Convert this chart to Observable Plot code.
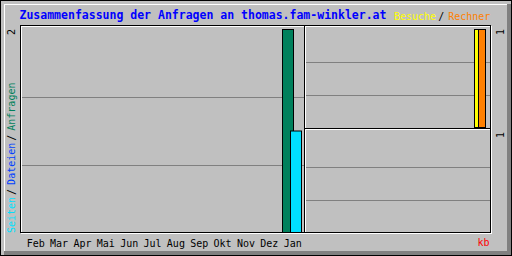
<!DOCTYPE html>
<html><head><meta charset="utf-8">
<script src="https://cdn.jsdelivr.net/npm/d3@7"></script>
<script src="https://cdn.jsdelivr.net/npm/@observablehq/plot@0.6"></script>
<style>
html,body{margin:0;padding:0;background:#c0c0c0;}
#chart{position:relative;width:512px;height:256px;background:#c0c0c0;overflow:hidden;font-family:"DejaVu Sans Mono",monospace;}
#chart svg{position:absolute;left:0;top:0;}
.abs{position:absolute;box-sizing:border-box;}
.txt{position:absolute;white-space:pre;font-size:10px;line-height:10px;font-family:"DejaVu Sans Mono",monospace;}
.rot{transform-origin:0 0;transform:rotate(-90deg);}
.sep{display:inline-block;width:12px;padding-left:2px;box-sizing:border-box;color:#000;}
</style></head><body><div id="chart"></div>
<script>
// ---- data ----
const months = ["Feb","Mar","Apr","Mai","Jun","Jul","Aug","Sep","Okt","Nov","Dez","Jan"];
const hits   = [0,0,0,0,0,0,0,0,0,0,0,2];   // Anfragen
const files  = [0,0,0,0,0,0,0,0,0,0,0,0];   // Dateien
const pages  = [0,0,0,0,0,0,0,0,0,0,0,1];   // Seiten
const visits = [0,0,0,0,0,0,0,0,0,0,0,1];   // Besuche
const sites  = [0,0,0,0,0,0,0,0,0,0,0,1];   // Rechner
const kbytes = [0,0,0,0,0,0,0,0,0,0,0,0];   // kb
const maxLabels = ["2","1","1"];             // left, top-right, bottom-right
const titleText = "Zusammenfassung der Anfragen an thomas.fam-winkler.at";
const leftLegend = ["Seiten","Dateien","Anfragen"];
const rightLegend = ["Besuche","Rechner"];
const kbLabel = "kb";

const C = {hits:"#00805C", files:"#0040FF", pages:"#00E0FF", visits:"#FFFF00", sites:"#FF8000", kb:"#FF0000", grid:"#808080", title:"#0000FF"};

const rows = months.map((month,i)=>({month, hits:hits[i], files:files[i], pages:pages[i], visits:visits[i], sites:sites[i], kbytes:kbytes[i]}));
const chart = document.getElementById("chart");

function div(x,y,w,h,css){const d=document.createElement("div");d.className="abs";Object.assign(d.style,{left:x+"px",top:y+"px",width:w+"px",height:h+"px"},css);chart.appendChild(d);return d;}

// bevel
div(0,0,512,256,{border:"1px solid #000"});
div(4,4,503,1,{background:"#fff"});
div(4,4,1,247,{background:"#fff"});
div(507,4,4,251,{background:"#808080"});
div(4,251,507,4,{background:"#808080"});

const style = {background:"transparent", fontFamily:"'DejaVu Sans Mono', monospace", fontSize:"10px", color:"#000", overflow:"visible"};
const grid = m => [m/3, 2*m/3];

// left panel: Seiten / Dateien / Anfragen
const hitMax = d3.max([...hits,...files,...pages]);
const step = 23.36;
chart.appendChild(Plot.plot({
  width:512, height:256, marginLeft:20, marginRight:207, marginTop:25, marginBottom:23.5,
  style,
  x:{type:"band", domain:months, range:[282.5-11*step, 282.5+step], padding:0, round:false},
  y:{domain:[0,hitMax], range:[232.5,29.5], axis:null},
  marks:[
    Plot.ruleY(grid(hitMax), {stroke:C.grid, shapeRendering:"crispEdges"}),
    Plot.barY(rows.filter(d=>d.hits>0), {x:"month", y:"hits", fill:C.hits, stroke:"#000", insetLeft:0, insetRight:step-11}),
    Plot.barY(rows.filter(d=>d.files>0), {x:"month", y:"files", fill:C.files, stroke:"#000", insetLeft:4, insetRight:step-15}),
    Plot.barY(rows.filter(d=>d.pages>0), {x:"month", y:"pages", fill:C.pages, stroke:"#000", insetLeft:8, insetRight:step-19}),
    Plot.axisX({tickSize:0, tickPadding:6.5, dx:-2, label:null})
  ]
}));

// top right: Besuche / Rechner
const visMax = d3.max([...visits,...sites]);
chart.appendChild(Plot.plot({
  width:512, height:256, marginLeft:304, marginRight:21, marginTop:25, marginBottom:127,
  style,
  x:{type:"band", domain:months, range:[304,490], padding:0, round:false, axis:null},
  y:{domain:[0,visMax], range:[127.5,29.5], axis:null},
  marks:[
    Plot.ruleY(grid(visMax), {stroke:C.grid, shapeRendering:"crispEdges"}),
    Plot.barY(rows.filter(d=>d.visits>0), {x:"month", y:"visits", fill:C.visits, stroke:"#000", insetLeft:0, insetRight:8.5}),
    Plot.barY(rows.filter(d=>d.sites>0), {x:"month", y:"sites", fill:C.sites, stroke:"#000", insetLeft:4, insetRight:4.5})
  ]
}));

// bottom right: kb
const kbMax = Math.max(1, d3.max(kbytes));
chart.appendChild(Plot.plot({
  width:512, height:256, marginLeft:304, marginRight:21, marginTop:128, marginBottom:23,
  style,
  x:{type:"band", domain:months, range:[304,490], padding:0, round:false, axis:null},
  y:{domain:[0,kbMax], range:[232.5,133.5], axis:null},
  marks:[
    Plot.ruleY(grid(kbMax), {stroke:C.grid, shapeRendering:"crispEdges"}),
    Plot.barY(rows.filter(d=>d.kbytes>0), {x:"month", y:"kbytes", fill:C.kb, stroke:"#000", insetLeft:2, insetRight:6.5})
  ]
}));

// panel frames (white offset first, then black)
const frames = [[20,25,304,232],[304,25,490,128],[304,128,490,232]];
frames.forEach(([x0,y0,x1,y1])=>div(x0+1,y0+1,x1-x0+1,y1-y0+1,{border:"1px solid #fff"}));
frames.forEach(([x0,y0,x1,y1])=>div(x0,y0,x1-x0+1,y1-y0+1,{border:"1px solid #000"}));

function text(x,y,html,cls,css){const d=document.createElement("div");d.className="txt "+(cls||"");d.innerHTML=html;Object.assign(d.style,{left:x+"px",top:y+"px"},css||{});chart.appendChild(d);return d;}

// title
text(19.5,10.3,titleText,"",{fontWeight:"bold",fontSize:"11.5px",lineHeight:"11.5px",color:C.title});
// right legend
text(394,11.5,`<span style="color:${C.visits}">${rightLegend[0]}</span><span class="sep">/</span><span style="color:${C.sites}">${rightLegend[1]}</span>`);
// left vertical legend
text(7,232.5,`<span style="color:${C.pages}">${leftLegend[0]}</span><span class="sep">/</span><span style="color:${C.files}">${leftLegend[1]}</span><span class="sep">/</span><span style="color:${C.hits}">${leftLegend[2]}</span>`,"rot");
// max labels
text(7,34.5,maxLabels[0],"rot",{color:"#000"});
text(495.5,34.5,maxLabels[1],"rot",{color:"#000"});
text(495.5,137.5,maxLabels[2],"rot",{color:"#000"});
// kb
text(477.5,237.5,kbLabel,"",{color:C.kb});
</script>
</body></html>
